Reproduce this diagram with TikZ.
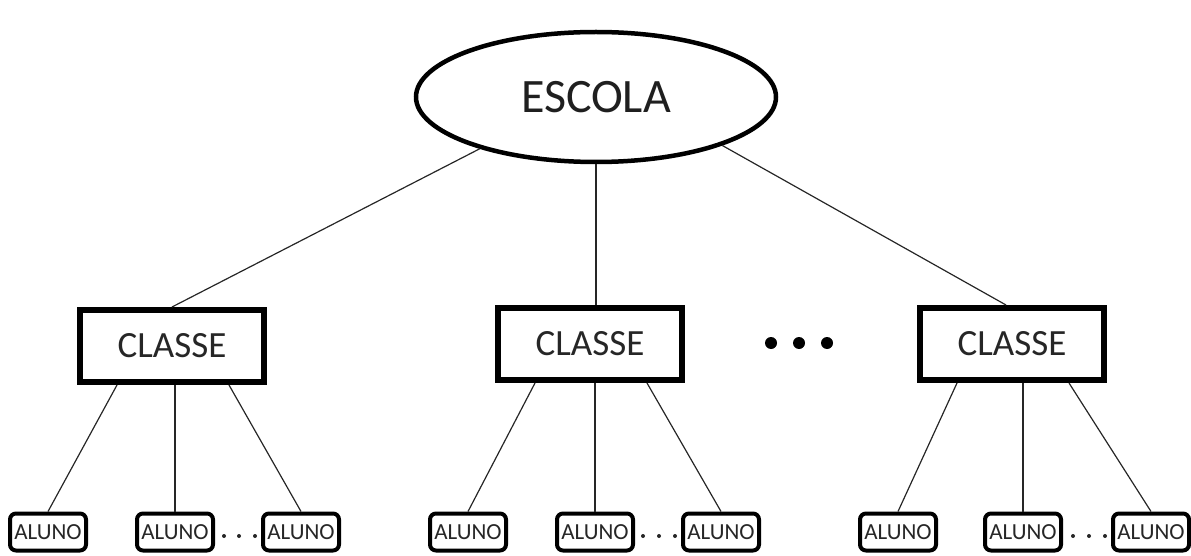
\documentclass[tikz,border=0pt]{standalone}
\usepackage{fontspec}
\setmainfont{Carlito}
\usetikzlibrary{shapes.geometric,calc}
\begin{document}
\begin{tikzpicture}[x=1pt,y=-1pt,
  escola/.style={ellipse,draw,line width=4.5pt,minimum width=360pt,minimum height=130pt,inner sep=0pt,font=\fontsize{48}{48}\selectfont,text=black!88},
  classe/.style={rectangle,draw,line width=6pt,minimum width=184pt,minimum height=72pt,inner sep=0pt,font=\fontsize{37}{37}\selectfont,text=black!85},
  aluno/.style={rectangle,draw,rounded corners=6pt,line width=4pt,minimum width=76pt,minimum height=37pt,inner sep=0pt,font=\fontsize{23}{23}\selectfont,text=black!85},
  link/.style={draw,line width=1.2pt,color=black!85},
  bigdot/.style={fill=black,draw=none},
  smalldot/.style={fill=black!85,draw=none}]
\useasboundingbox (0,0) rectangle (1191,556);
% root
\node[escola] (e) at (596,97) {ESCOLA};
% classes
\node[classe] (c1) at (172,346) {CLASSE};
\node[classe] (c2) at (590,344) {CLASSE};
\node[classe] (c3) at (1012,344) {CLASSE};
% students
\node[aluno] (a11) at (48,532) {ALUNO};
\node[aluno] (a12) at (175,532) {ALUNO};
\node[aluno] (a13) at (301,532) {ALUNO};
\node[aluno] (a21) at (468,532) {ALUNO};
\node[aluno] (a22) at (595,532) {ALUNO};
\node[aluno] (a23) at (721,532) {ALUNO};
\node[aluno] (a31) at (898,532) {ALUNO};
\node[aluno] (a32) at (1023,532) {ALUNO};
\node[aluno] (a33) at (1151,532) {ALUNO};
% connectors root -> classes
\draw[link] (e.204) -- (c1.north);
\draw[link] (e.south) -- (e.south |- c2.north);
\draw[link] (e.339) -- ($(c3.north)+(-6,0)$);
% connectors classes -> students
\foreach \c/\l/\m/\r in {c1/a11/a12/a13, c2/a21/a22/a23, c3/a31/a32/a33}{
  \draw[link] ($(\c.south)+(-55,0)$) -- (\l.north);
  \draw[link] (\m.north |- \c.south) -- (\m.north);
  \draw[link] ($(\c.south)+(57,0)$) -- (\r.north);
}
% ellipsis between class boxes
\foreach \x in {771,799,827} \fill[bigdot] (\x,343) circle (6pt);
% ellipsis between students
\foreach \x in {224,239,255, 643,659,675, 1073,1089,1105} \fill[smalldot] (\x,536) circle (2pt);
\end{tikzpicture}
\end{document}
